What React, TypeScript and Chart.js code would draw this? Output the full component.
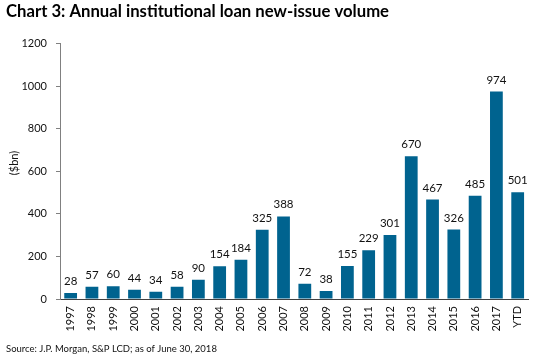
import React, { useEffect, useRef } from "react";
import { Chart, registerables } from "chart.js";

Chart.register(...registerables);

const categories = ["1997","1998","1999","2000","2001","2002","2003","2004","2005","2006","2007","2008","2009","2010","2011","2012","2013","2014","2015","2016","2017","YTD"];
const volumes = [28,57,60,44,34,58,90,154,184,325,388,72,38,155,229,301,670,467,326,485,974,501];
const yTicks = [0,200,400,600,800,1000,1200];
const titleText = "Chart 3: Annual institutional loan new-issue volume";
const sourceText = "Source: J.P. Morgan, S&P LCD; as of June 30, 2018";
const yTitle = "($bn)";

const FONT = "Lato, 'Open Sans', sans-serif";
const BAR = "#00638f";

const decorPlugin = {
  id: "decor",
  afterDatasetsDraw(chart: any) {
    const ctx = chart.ctx;
    const meta = chart.getDatasetMeta(0);
    ctx.save();
    ctx.fillStyle = "#111";
    ctx.font = `11.5px ${FONT}`;
    ctx.textAlign = "center";
    ctx.textBaseline = "bottom";
    meta.data.forEach((el: any, i: number) => {
      ctx.fillText(String(chart.data.datasets[0].data[i]), el.x, el.y - 6);
    });
    ctx.restore();
  },
  afterDraw(chart: any) {
    const ctx = chart.ctx;
    ctx.save();
    ctx.fillStyle = "#000";
    ctx.font = `bold 16.7px ${FONT}`;
    ctx.textAlign = "left";
    ctx.textBaseline = "middle";
    ctx.fillText(titleText, 6, 12);
    ctx.font = `9.5px ${FONT}`;
    ctx.fillStyle = "#111";
    ctx.fillText(sourceText, 6, 349);
    ctx.translate(14, 163);
    ctx.rotate(-Math.PI / 2);
    ctx.textAlign = "center";
    ctx.font = `11px ${FONT}`;
    ctx.fillText(yTitle, 0, 0);
    ctx.restore();
  },
};

export default function App() {
  const ref = useRef<HTMLCanvasElement>(null);
  useEffect(() => {
    document.body.style.margin = "0";
    const chart = new Chart(ref.current!, {
      type: "bar",
      data: {
        labels: categories,
        datasets: [{ data: volumes, backgroundColor: BAR, barPercentage: 0.6, categoryPercentage: 1 }],
      },
      options: {
        animation: false,
        responsive: false,
        devicePixelRatio: 1,
        layout: { padding: { left: 0, top: 43.5, right: 5, bottom: 0 } },
        plugins: { legend: { display: false }, tooltip: { enabled: false }, title: { display: false } },
        scales: {
          x: {
            grid: { display: false, drawTicks: false },
            border: { display: true, color: "#404040", width: 1 },
            ticks: {
              autoSkip: false,
              minRotation: 90,
              maxRotation: 90,
              padding: 7,
              color: "#111",
              font: { family: FONT, size: 11 },
            },
            afterFit(scale: any) { scale.height = 61; },
          },
          y: {
            min: 0,
            max: 1200,
            afterBuildTicks(scale: any) { scale.ticks = yTicks.map((v) => ({ value: v })); },
            grid: { drawOnChartArea: false, drawTicks: true, tickLength: 4, color: "#808080" },
            border: { display: true, color: "#808080", width: 1 },
            ticks: {
              padding: 9,
              color: "#111",
              font: { family: FONT, size: 11 },
              callback: (v: any) => String(v),
            },
            afterFit(scale: any) { scale.width = 60; },
          },
        },
      },
      plugins: [decorPlugin],
    });
    return () => chart.destroy();
  }, []);
  return <canvas ref={ref} width={538} height={360} style={{ display: "block" }} />;
}
